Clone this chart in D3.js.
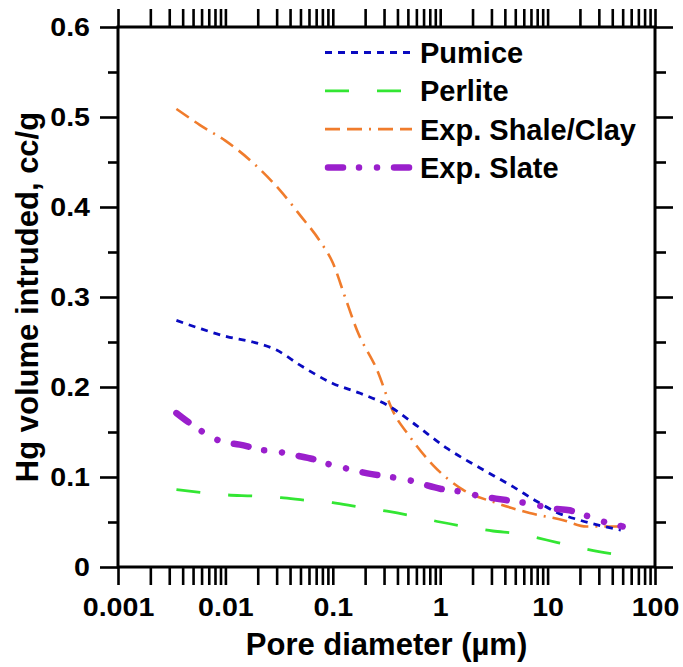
<!DOCTYPE html>
<html>
<head>
<meta charset="utf-8">
<script src="https://cdn.jsdelivr.net/npm/d3@7/dist/d3.min.js"></script>
<style>
  html, body { margin: 0; padding: 0; background: #fff; }
  svg { display: block; }
  text { font-family: "Liberation Sans", Arial, sans-serif; font-weight: bold; fill: #000; }
</style>
</head>
<body>
<script>
// ---------- data ----------
const seriesNames = ["Pumice", "Perlite", "Exp. Shale/Clay", "Exp. Slate"];

const pumiceX = [0.0035, 0.0058, 0.0103, 0.018, 0.030, 0.050, 0.10, 0.18, 0.32, 0.56, 1.15, 2.35, 4.8, 7.9, 12, 20, 48];
const pumiceY = [0.274, 0.265, 0.256, 0.250, 0.241, 0.224, 0.204, 0.193, 0.180, 0.160, 0.132, 0.110, 0.089, 0.073, 0.061, 0.052, 0.041];

const perliteX = [0.0035, 0.0058, 0.0106, 0.0176, 0.033, 0.057, 0.10, 0.17, 0.32, 0.54, 1.0, 1.7, 3.1, 5.3, 9.8, 16, 30, 50];
const perliteY = [0.086, 0.083, 0.080, 0.079, 0.077, 0.074, 0.0715, 0.067, 0.062, 0.057, 0.050, 0.045, 0.040, 0.037, 0.030, 0.024, 0.017, 0.013];

const shaleX = [0.0035, 0.0058, 0.0099, 0.0189, 0.032, 0.0495, 0.076, 0.10, 0.13, 0.168, 0.258, 0.36, 0.52, 0.86, 1.62, 3.36, 6.8, 14, 23, 50];
const shaleY = [0.509, 0.491, 0.474, 0.447, 0.419, 0.391, 0.362, 0.338, 0.300, 0.263, 0.219, 0.174, 0.145, 0.113, 0.086, 0.071, 0.060, 0.052, 0.045, 0.045];

const slateX = [0.0035, 0.0049, 0.0066, 0.0094, 0.0136, 0.022, 0.031, 0.045, 0.065, 0.10, 0.14, 0.21, 0.30, 0.49, 0.69, 1.0, 1.5, 2.3, 3.3, 4.9, 7.1, 11, 16, 23, 34, 50];
const slateY = [0.171, 0.158, 0.148, 0.139, 0.136, 0.130, 0.128, 0.124, 0.120, 0.113, 0.109, 0.104, 0.101, 0.097, 0.092, 0.087, 0.084, 0.079, 0.076, 0.073, 0.070, 0.065, 0.063, 0.057, 0.050, 0.045];

const xDecades = [0.001, 0.01, 0.1, 1, 10, 100];
const xTickLabels = ["0.001", "0.01", "0.1", "1", "10", "100"];
const yMajorTicks = [0, 0.1, 0.2, 0.3, 0.4, 0.5, 0.6];
const yTickLabels = ["0", "0.1", "0.2", "0.3", "0.4", "0.5", "0.6"];
const yMinorTicks = [0.05, 0.15, 0.25, 0.35, 0.45, 0.55];

const xTitle = "Pore diameter (\u00b5m)";
const yTitle = "Hg volume intruded, cc/g";

// ---------- styles ----------
const styles = [
  { color: "#0a0ac0", width: 2.8, dash: "7,6", cap: "butt" },
  { color: "#33e633", width: 2.8, dash: "24,28", cap: "butt" },
  { color: "#f07c2c", width: 2.6, dash: "15,7,15,7,2,7", cap: "butt" },
  { color: "#9a1fcc", width: 6.5, dash: "15,16,0.01,18,0.01,17", cap: "round" }
];

const W = 683, H = 667;
const L = 118, R = 655, T = 27, B = 567;
const tickFont = 26, tickStretch = 1.1;

const svg = d3.select("body").append("svg").attr("width", W).attr("height", H);

const x = d3.scaleLog().domain([0.001, 100]).range([L, R]);
const y = d3.scaleLinear().domain([0, 0.6]).range([B, T]);

const xAllTicks = [];
xDecades.slice(0, -1).forEach(d => { for (let k = 1; k <= 9; k++) xAllTicks.push(+(d * k).toPrecision(3)); });
xAllTicks.push(100);

function styleAxis(g, tw) {
  g.selectAll(".domain").remove();
  g.selectAll(".tick line").attr("stroke", "#000").attr("stroke-width", tw);
}
function stretch(sel) {
  sel.each(function () {
    const w = this.getComputedTextLength();
    if (w > 0) d3.select(this).attr("textLength", w * tickStretch).attr("lengthAdjust", "spacingAndGlyphs");
  });
}

// bottom axis
const gB = svg.append("g").attr("transform", `translate(0,${B})`)
  .call(d3.axisBottom(x).tickValues(xAllTicks).tickSize(18).tickSizeOuter(0).tickPadding(13)
    .tickFormat(d => { const i = xDecades.findIndex(v => Math.abs(v - d) / v < 1e-6); return i >= 0 ? xTickLabels[i] : ""; }));
styleAxis(gB, 2.6);
gB.selectAll(".tick text").attr("font-size", tickFont).attr("fill", "#000").call(stretch);

// top axis
const gT = svg.append("g").attr("transform", `translate(0,${T})`)
  .call(d3.axisTop(x).tickValues(xAllTicks).tickSize(18).tickSizeOuter(0).tickFormat(""));
styleAxis(gT, 2.6);

// left axis
const gL = svg.append("g").attr("transform", `translate(${L},0)`)
  .call(d3.axisLeft(y).tickValues(yMajorTicks).tickSize(18).tickSizeOuter(0).tickPadding(10)
    .tickFormat((d, i) => yTickLabels[i]));
styleAxis(gL, 2.6);
gL.selectAll(".tick text").attr("font-size", tickFont).attr("fill", "#000").call(stretch);
const gLm = svg.append("g").attr("transform", `translate(${L},0)`)
  .call(d3.axisLeft(y).tickValues(yMinorTicks).tickSize(10).tickSizeOuter(0).tickFormat(""));
styleAxis(gLm, 2.6);

// right axis
const gR = svg.append("g").attr("transform", `translate(${R},0)`)
  .call(d3.axisRight(y).tickValues(yMajorTicks).tickSize(18).tickSizeOuter(0).tickFormat(""));
styleAxis(gR, 2.6);
const gRm = svg.append("g").attr("transform", `translate(${R},0)`)
  .call(d3.axisRight(y).tickValues(yMinorTicks).tickSize(11).tickSizeOuter(0).tickFormat(""));
styleAxis(gRm, 2.6);

// frame
svg.append("rect").attr("x", L).attr("y", T).attr("width", R - L).attr("height", B - T)
  .attr("fill", "none").attr("stroke", "#000").attr("stroke-width", 3);

// lines
const allSeries = [
  pumiceX.map((v, i) => [v, pumiceY[i]]),
  perliteX.map((v, i) => [v, perliteY[i]]),
  shaleX.map((v, i) => [v, shaleY[i]]),
  slateX.map((v, i) => [v, slateY[i]])
];
const line = d3.line().x(d => x(d[0])).y(d => y(d[1])).curve(d3.curveMonotoneX);

const order = [1, 2, 0, 3];
order.forEach(i => {
  const s = styles[i];
  svg.append("path").datum(allSeries[i]).attr("d", line)
    .attr("fill", "none").attr("stroke", s.color).attr("stroke-width", s.width)
    .attr("stroke-dasharray", s.dash).attr("stroke-linecap", s.cap).attr("stroke-linejoin", "round");
});

// legend
const legY0 = 52.5, legDy = 38.3, legX1 = 325, legX2 = 412, legTx = 420;
seriesNames.forEach((name, i) => {
  const s = styles[i];
  const yy = legY0 + i * legDy;
  svg.append("line").attr("x1", legX1 + (s.cap === "round" ? 3 : 0)).attr("x2", legX2).attr("y1", yy).attr("y2", yy)
    .attr("stroke", s.color).attr("stroke-width", s.width).attr("stroke-dasharray", s.dash).attr("stroke-linecap", s.cap);
  svg.append("text").attr("x", legTx).attr("y", yy).attr("dy", "0.36em").attr("font-size", 29).text(name);
});

// titles
svg.append("text").attr("x", (L + R) / 2).attr("y", 655).attr("text-anchor", "middle").attr("font-size", 31).text(xTitle);
svg.append("text").attr("transform", `translate(38,${(T + B) / 2}) rotate(-90)`).attr("text-anchor", "middle").attr("font-size", 31).text(yTitle);
</script>
</body>
</html>
